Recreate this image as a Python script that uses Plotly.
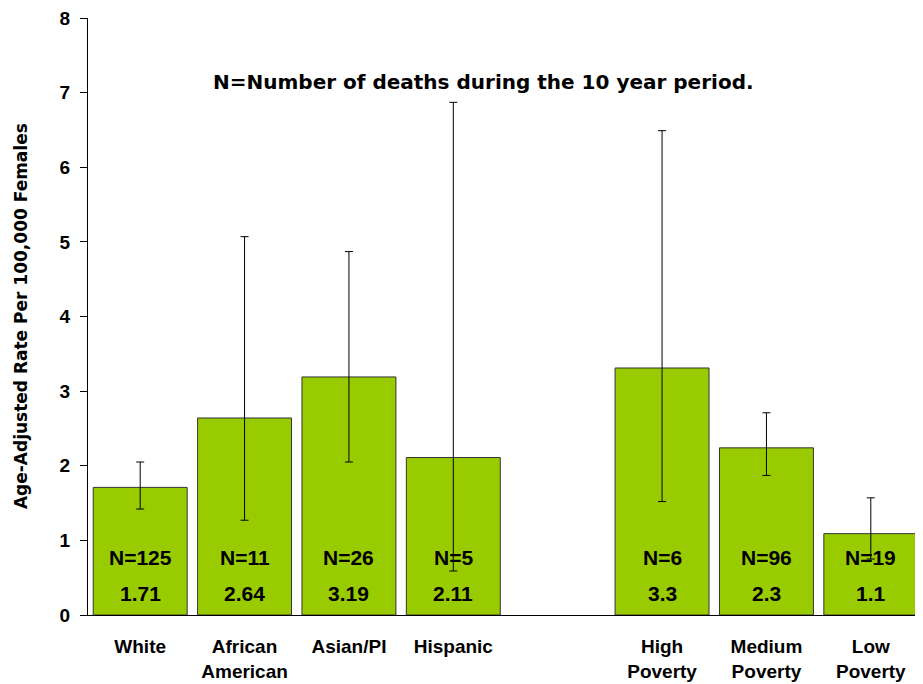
import plotly.graph_objects as go

# dados
categorias = ["White", "African<br>American", "Asian/PI", "Hispanic", "",
              "High<br>Poverty", "Medium<br>Poverty", "Low<br>Poverty"]
taxas = [1.71, 2.64, 3.19, 2.11, None, 3.31, 2.24, 1.09]
ic_superior = [2.05, 5.07, 4.87, 6.87, None, 6.49, 2.71, 1.57]
ic_inferior = [1.42, 1.27, 2.05, 0.59, None, 1.52, 1.87, 0.75]
n_mortes = ["N=125", "N=11", "N=26", "N=5", "", "N=6", "N=96", "N=19"]
rotulos_taxa = ["1.71", "2.64", "3.19", "2.11", "", "3.3", "2.3", "1.1"]

posicoes = list(range(len(categorias)))
erro_mais = [None if t is None else s - t for t, s in zip(taxas, ic_superior)]
erro_menos = [None if t is None else t - i for t, i in zip(taxas, ic_inferior)]

fonte = "Liberation Sans, Arial, sans-serif"
fonte_larga = "DejaVu Sans, Verdana, sans-serif"

fig = go.Figure(go.Bar(
    x=posicoes,
    y=taxas,
    width=0.9,
    marker=dict(color="#99CC00", line=dict(color="#333333", width=1)),
    error_y=dict(type="data", symmetric=False, array=erro_mais, arrayminus=erro_menos,
                 color="black", thickness=1, width=4),
    hoverinfo="skip",
))

# rótulos dentro das barras
for p, n, r in zip(posicoes, n_mortes, rotulos_taxa):
    if not n:
        continue
    fig.add_annotation(x=p, y=0.77, text=f"<b>{n}</b>", showarrow=False,
                       xanchor="center", yanchor="middle",
                       font=dict(family=fonte, size=21, color="black"))
    fig.add_annotation(x=p, y=0.29, text=f"<b>{r}</b>", showarrow=False,
                       xanchor="center", yanchor="middle",
                       font=dict(family=fonte, size=21, color="black"))

# nota no topo
fig.add_annotation(x=0.474, y=0.893, xref="paper", yref="paper",
                   xanchor="center", yanchor="middle",
                   text="<b>N=Number of deaths during the 10 year period.</b>",
                   showarrow=False, font=dict(family=fonte_larga, size=20, color="black"))

# título do eixo y
fig.add_annotation(x=-0.08, y=0.501, xref="paper", yref="paper",
                   xanchor="center", yanchor="middle", textangle=-90,
                   text="<b>Age-Adjusted Rate Per 100,000 Females</b>",
                   showarrow=False, font=dict(family=fonte_larga, size=17, color="black"))

fig.update_layout(
    width=915, height=676,
    margin=dict(l=80, r=0, t=10, b=69),
    plot_bgcolor="white", paper_bgcolor="white",
    showlegend=False,
    font=dict(family=fonte, color="black"),
    xaxis=dict(
        range=[-0.5, 7.5], tickvals=posicoes,
        ticktext=[f"<b>{c}</b>" if c else "" for c in categorias],
        tickfont=dict(size=19), ticks="outside", ticklen=14,
        tickcolor="rgba(0,0,0,0)", showline=True, linecolor="black",
        linewidth=1, showgrid=False, zeroline=False,
    ),
    yaxis=dict(
        range=[0, 8], dtick=1, tickfont=dict(size=19, weight="bold"),
        ticks="outside", ticklen=7, tickcolor="black", ticklabelstandoff=6,
        ticklabeloverflow="allow",
        showline=True, linecolor="black", linewidth=1,
        showgrid=False, zeroline=False,
    ),
)

fig.write_html("out.html")
